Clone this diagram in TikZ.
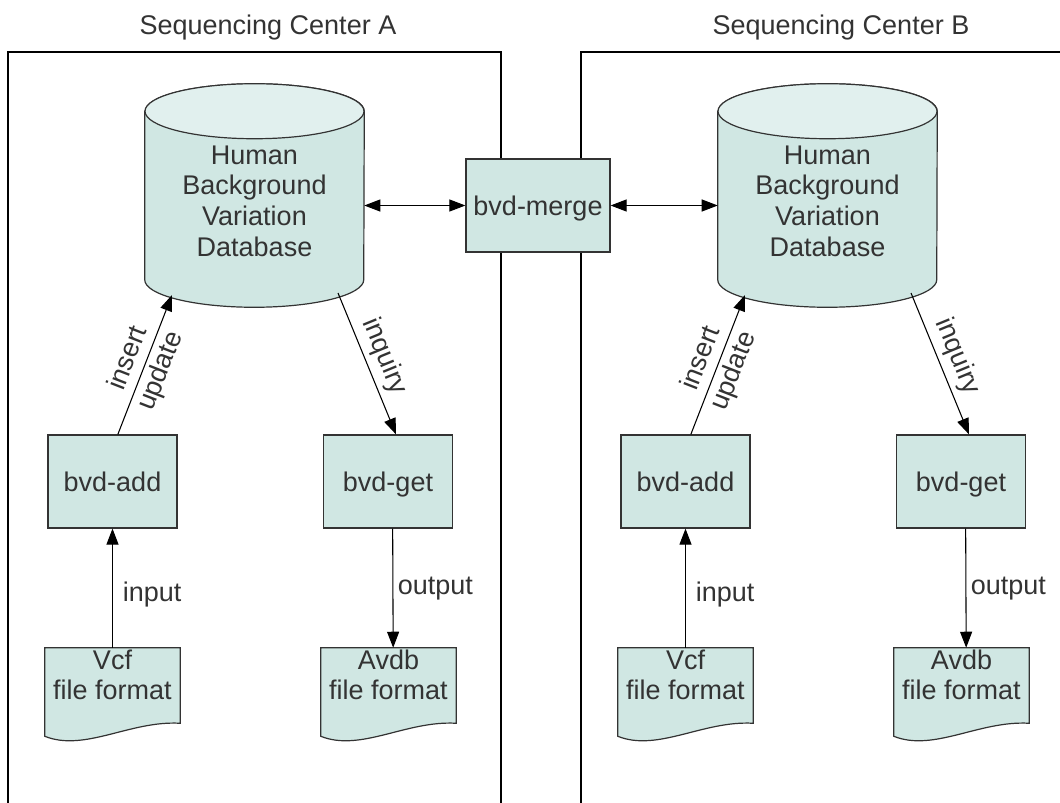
\documentclass[tikz,border=0pt]{standalone}
\usepackage{fontspec}
\setmainfont{Liberation Sans}
\usetikzlibrary{arrows.meta,calc,backgrounds}

\definecolor{boxfill}{RGB}{208,231,227}
\definecolor{capfill}{RGB}{225,240,238}
\definecolor{inkgray}{RGB}{51,51,51}

% document shape with a wavy foot, drawn round a named node
\newcommand{\docshape}[1]{%
	\path[draw=inkgray,fill=boxfill,line width=0.9pt] (#1.north west) -- (#1.north east)
		-- ($(#1.south east)+(0,21)$) .. controls ($(#1.south east)+(-50,18)$) and ($(#1.south west)+(40,50)$) .. ($(#1.south west)+(0,34)$) -- cycle;}
% database drum drawn round a named node
\newcommand{\drumshape}[1]{%
	\path[draw=inkgray,fill=boxfill,line width=0.9pt] ($(#1.north west)+(0,27.5)$) -- ($(#1.south west)+(0,-27.5)$)
		arc[start angle=180,end angle=360,x radius=82.125pt,y radius=20.625pt]
		-- ($(#1.north east)+(0,27.5)$)
		arc[start angle=0,end angle=180,x radius=82.125pt,y radius=20.625pt] -- cycle;
	\path[draw=inkgray,fill=capfill,line width=0.9pt] ($(#1.north)+(0,27.5)$) ellipse[x radius=82.125pt,y radius=20.625pt];}
% strut that lowers the drum text a little
\def\DBSTRUT{\rule{0pt}{22.3pt}}

\begin{document}
\begin{tikzpicture}[x=0.75pt,y=-0.75pt,
	every node/.style={text=inkgray,font=\fontsize{20.25}{23}\selectfont},
	proc/.style={draw=inkgray,fill=boxfill,line width=0.9pt,minimum width=96.75pt,minimum height=69.75pt,
		inner sep=0pt,text height=14.6pt,text depth=0pt},
	doc/.style={minimum width=101.25pt,minimum height=40.5pt,align=center,inner sep=0pt},
	db/.style={minimum width=164.25pt,minimum height=167.25pt,align=center,inner sep=0pt},
	link/.style={draw=black,line width=0.8pt,-{Triangle[length=12pt,width=9pt]}},
	twolink/.style={draw=black,line width=0.8pt,{Triangle[length=12pt,width=9pt]}-{Triangle[length=12pt,width=9pt]}}]

	\useasboundingbox (0,0) rectangle (1060,803);

	\node (titleA) at (268,28) {Sequencing Center A};
	\node (titleB) at (841,28) {Sequencing Center B};

	\node[db] (dbA) at (254.5,195.5) {\DBSTRUT Human\\Background\\Variation\\Database};
	\node[db] (dbB) at (827.5,195.5) {\DBSTRUT Human\\Background\\Variation\\Database};
	\node[proc,minimum width=108pt] (merge) at (538,205.5) {bvd-merge};

	\node[proc] (addA) at (112.5,481.5) {bvd-add};
	\node[proc] (getA) at (388,481.5) {bvd-get};
	\node[proc] (addB) at (685.5,481.5) {bvd-add};
	\node[proc] (getB) at (961,481.5) {bvd-get};

	\node[doc] (vcfA) at (112.5,675) {Vcf\\file format};
	\node[doc] (avdbA) at (388.5,675) {Avdb\\file format};
	\node[doc] (vcfB) at (685.5,675) {Vcf\\file format};
	\node[doc] (avdbB) at (961.5,675) {Avdb\\file format};

	\begin{scope}[on background layer]
		\draw[line width=0.8pt] (8,810) -- (8,52) -- (501,52) -- (501,810);
		\draw[line width=0.8pt] (581,810) -- (581,52) -- (1070,52);
		\drumshape{dbA}
		\drumshape{dbB}
		\docshape{vcfA}
		\docshape{avdbA}
		\docshape{vcfB}
		\docshape{avdbB}
	\end{scope}

	\draw[twolink] (merge.west -| dbA.east) -- (merge.west);
	\draw[twolink] (merge.east) -- (merge.east -| dbB.west);

	\draw[link] ([xshift=4pt]addA.north) -- node[sloped,align=center]{insert\\[3pt]update} ($(dbA.center)+(-82.5,99.5)$);
	\draw[link] ($(dbA.center)+(83.5,97.5)$) -- node[sloped,above=1pt]{inquiry} ([xshift=6pt]getA.north);
	\draw[link] (vcfA.north) -- node[right=4pt,pos=0.45]{input} (addA.south);
	\draw[link] ([xshift=3.5pt]getA.south) -- node[right]{output} ([xshift=3.5pt]avdbA.north);

	\draw[link] ([xshift=4pt]addB.north) -- node[sloped,align=center]{insert\\[3pt]update} ($(dbB.center)+(-82.5,99.5)$);
	\draw[link] ($(dbB.center)+(83.5,97.5)$) -- node[sloped,above=1pt]{inquiry} ([xshift=6pt]getB.north);
	\draw[link] (vcfB.north) -- node[right=4pt,pos=0.45]{input} (addB.south);
	\draw[link] ([xshift=3.5pt]getB.south) -- node[right]{output} ([xshift=3.5pt]avdbB.north);

\end{tikzpicture}
\end{document}
